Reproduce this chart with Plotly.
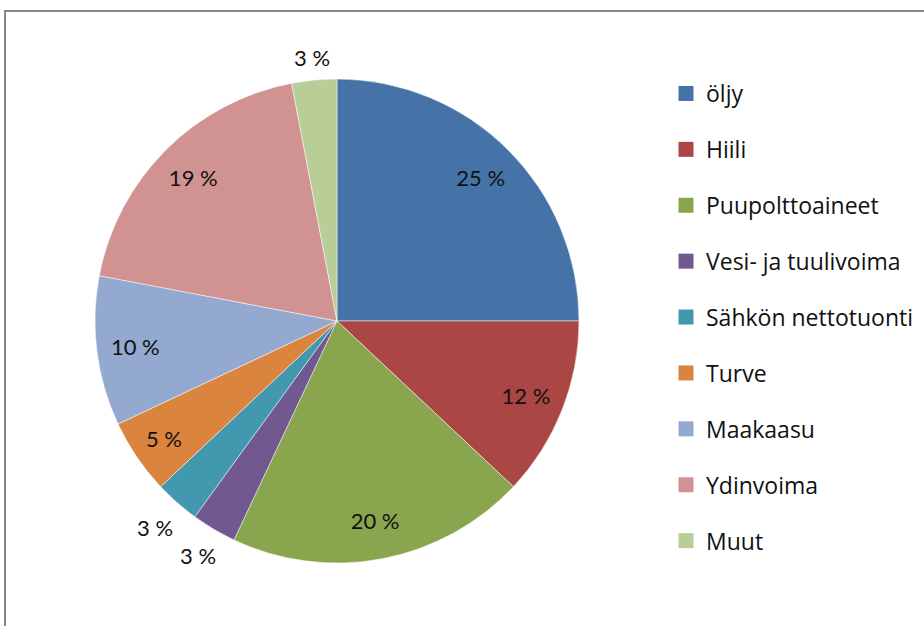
import math
import plotly.graph_objects as go

labels = ["öljy", "Hiili", "Puupolttoaineet", "Vesi- ja tuulivoima",
          "Sähkön nettotuonti", "Turve", "Maakaasu", "Ydinvoima", "Muut"]
values = [25, 12, 20, 3, 3, 5, 10, 19, 3]
colors = ["#4572A7", "#AA4643", "#89A54E", "#71588F", "#4198AF",
          "#DB843D", "#93A9CF", "#D19392", "#B9CD96"]

W, H = 924, 626
cx, cy, R = 337, 321, 242
dom_x = [(cx - R) / W, (cx + R) / W]
dom_y = [1 - (cy + R) / H, 1 - (cy - R) / H]

inside = [v >= 5 for v in values]
text_pos = ["inside" if ins else "none" for ins in inside]
texts = [f"{v} %" for v in values]

fig = go.Figure()
fig.add_trace(go.Pie(
    labels=labels, values=values, sort=False, direction="clockwise", rotation=0,
    marker=dict(colors=colors, line=dict(color="white", width=0.5)),
    textinfo="none", showlegend=False, domain=dict(x=dom_x, y=dom_y),
    hoverinfo="label+percent",
))
fig.add_trace(go.Pie(
    labels=labels, values=values, sort=False, direction="clockwise", rotation=0,
    hole=0.68,
    marker=dict(colors=["rgba(0,0,0,0)"] * len(values), line=dict(width=0)),
    text=texts, textinfo="text", textposition=text_pos,
    insidetextorientation="horizontal",
    textfont=dict(family="Lato", size=22, color="#111111"),
    showlegend=False, domain=dict(x=dom_x, y=dom_y), hoverinfo="skip",
))
for lab, col in zip(labels, colors):
    fig.add_trace(go.Scatter(
        x=[None], y=[None], mode="markers", name=lab, legendgroup=lab,
        marker=dict(symbol="square", size=15, color=col),
    ))

# outside labels for the small slices, placed along each slice's bisector
total = sum(values)
cum = 0
annotations = []
for v, t, ins in zip(values, texts, inside):
    mid = (cum + v / 2) / total * 2 * math.pi
    cum += v
    if ins:
        continue
    s, c = math.sin(mid), -math.cos(mid)
    r = R + 10 + 22 * abs(s) + 11 * abs(c)
    annotations.append(dict(
        x=(cx + r * s) / W, y=1 - (cy + r * c) / H, xref="paper", yref="paper",
        text=t, showarrow=False, xanchor="center", yanchor="middle",
        font=dict(family="Lato", size=22, color="#111111"),
    ))

fig.update_layout(
    width=W, height=H,
    margin=dict(l=0, r=0, t=0, b=0),
    paper_bgcolor="white", plot_bgcolor="white",
    xaxis=dict(visible=False), yaxis=dict(visible=False),
    legend=dict(x=666 / W, y=1 - 72 / H, xanchor="left", yanchor="top",
                font=dict(family="Open Sans", size=23, color="#111111"),
                tracegroupgap=23, itemsizing="trace", bgcolor="rgba(0,0,0,0)"),
    annotations=annotations,
    shapes=[dict(type="rect", xref="paper", yref="paper",
                 x0=5 / W, x1=1.02, y0=-0.02, y1=1 - 11 / H,
                 line=dict(color="#868686", width=2))],
    showlegend=True,
)

fig.write_html("out.html", config={"displayModeBar": False},
               post_script="document.body.style.margin='0';document.body.style.overflow='hidden';")
